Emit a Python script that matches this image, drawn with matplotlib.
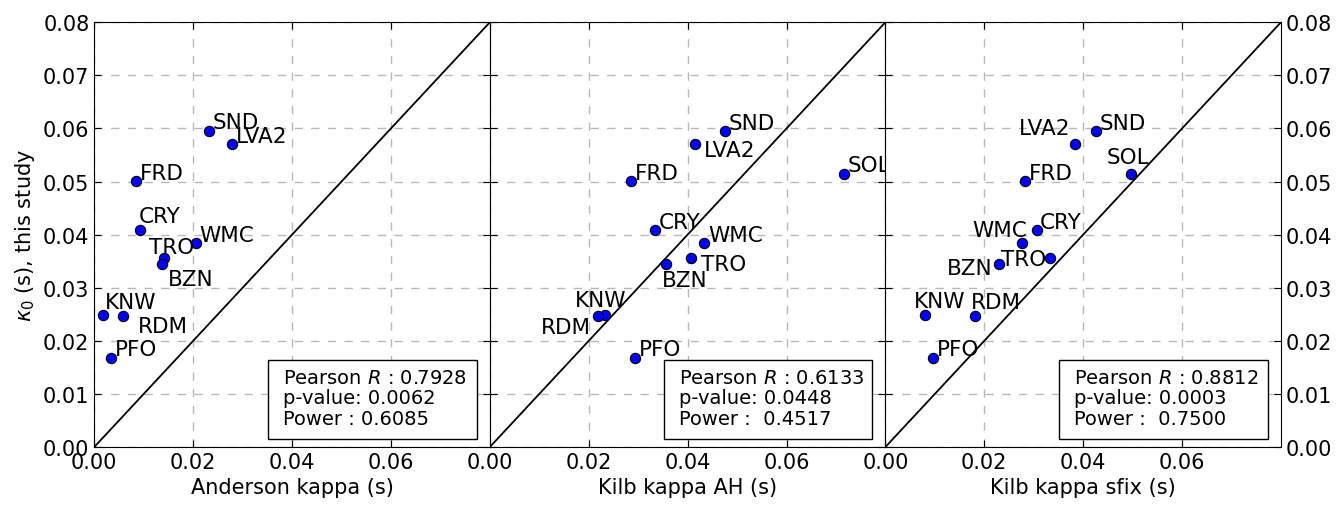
import numpy as np
import matplotlib
matplotlib.use('Agg')
import matplotlib.pyplot as plt
from matplotlib.patches import Rectangle

# Estações e kappa0 deste estudo
stations = ['SND', 'LVA2', 'FRD', 'CRY', 'WMC', 'TRO', 'BZN', 'KNW', 'RDM', 'PFO', 'SOL']
kappa0 = [0.0595, 0.0571, 0.0501, 0.0409, 0.0384, 0.0356, 0.0344, 0.0249, 0.0247, 0.0168, 0.0515]

# Kappas de comparação
anderson = [0.0232, 0.0278, 0.0084, 0.0093, 0.0206, 0.0141, 0.0137, 0.0017, 0.0058, 0.0034, np.nan]
kilb_ah = [0.0476, 0.0415, 0.0285, 0.0334, 0.0433, 0.0407, 0.0357, 0.0232, 0.0219, 0.0294, 0.0716]
kilb_sfix = [0.0426, 0.0383, 0.0282, 0.0306, 0.0277, 0.0333, 0.0229, 0.0080, 0.0181, 0.0097, 0.0497]

xlabels = ['Anderson kappa (s)', 'Kilb kappa AH (s)', 'Kilb kappa sfix (s)']
stats_text = [
    'Pearson $R$ : 0.7928\np-value: 0.0062\nPower : 0.6085',
    'Pearson $R$ : 0.6133\np-value: 0.0448\nPower :  0.4517',
    'Pearson $R$ : 0.8812\np-value: 0.0003\nPower :  0.7500',
]

# deslocamento dos rótulos (pixels) e alinhamento
offsets = [
    {'SND': (4, 3, 'left'), 'LVA2': (4, 2, 'left'), 'FRD': (4, 2, 'left'),
     'CRY': (-2, 8, 'left'), 'WMC': (3, 2, 'left'), 'TRO': (-15, 5, 'left'),
     'BZN': (6, -21, 'left'), 'KNW': (2, 7, 'left'), 'RDM': (15, -16, 'left'),
     'PFO': (4, 3, 'left')},
    {'SND': (3, 2, 'left'), 'LVA2': (9, -12, 'left'), 'FRD': (4, 2, 'left'),
     'CRY': (4, 2, 'left'), 'WMC': (4, 2, 'left'), 'TRO': (10, -12, 'left'),
     'BZN': (-4, -22, 'left'), 'KNW': (-30, 9, 'left'), 'RDM': (-7, -17, 'right'),
     'PFO': (4, 3, 'left'), 'SOL': (4, 3, 'left')},
    {'SND': (4, 2, 'left'), 'LVA2': (-4, 10, 'right'), 'FRD': (4, 2, 'left'),
     'CRY': (3, 2, 'left'), 'WMC': (5, 7, 'right'), 'TRO': (-4, -7, 'right'),
     'BZN': (-6, -10, 'right'), 'KNW': (-11, 8, 'left'), 'RDM': (-4, 8, 'left'),
     'PFO': (4, 3, 'left'), 'SOL': (-25, 11, 'left')},
]

fig, axes = plt.subplots(1, 3, figsize=(13.43, 5.06), dpi=100, sharey=True)
plt.subplots_adjust(left=0.0702, right=0.9538, bottom=0.1146, top=0.954, wspace=0)

for i, (ax, xs) in enumerate(zip(axes, [anderson, kilb_ah, kilb_sfix])):
    ax.grid(True, linestyle='--', color='0.72', linewidth=1, dashes=(6, 6))
    ax.plot([0, 0.08], [0, 0.08], 'k-', lw=1.3, zorder=2)
    ax.scatter(xs, kappa0, s=55, c='#0000ff', edgecolors='k', linewidths=0.8, zorder=3)
    for name, x, y in zip(stations, xs, kappa0):
        if np.isnan(x):
            continue
        dx, dy, ha = offsets[i][name]
        ax.annotate(name, (x, y), xytext=(dx, dy), textcoords='offset pixels',
                    ha=ha, va='baseline', fontsize=15.5)
    ax.add_patch(Rectangle((0.44, 0.019), 0.527, 0.186, transform=ax.transAxes,
                           facecolor='white', edgecolor='k', lw=1, zorder=4))
    ax.text(0.477, 0.1154, stats_text[i], transform=ax.transAxes, ha='left', va='center',
            fontsize=14, linespacing=1.1, zorder=5)
    ax.set_xlim(0, 0.08)
    ax.set_ylim(0, 0.08)
    ax.set_xticks([0, 0.02, 0.04, 0.06])
    ax.set_yticks(np.arange(0, 0.081, 0.01))
    ax.set_xlabel(xlabels[i], fontsize=15)
    ax.tick_params(direction='in', length=5, top=True, right=True, labelsize=15)
    ax.xaxis.set_major_formatter(plt.FormatStrFormatter('%.2f'))
    ax.yaxis.set_major_formatter(plt.FormatStrFormatter('%.2f'))

axes[0].set_ylabel(r'$\kappa_0$ (s), this study', fontsize=15)
axes[2].tick_params(labelright=True)

plt.savefig('out.png', dpi=100)
plt.close()
